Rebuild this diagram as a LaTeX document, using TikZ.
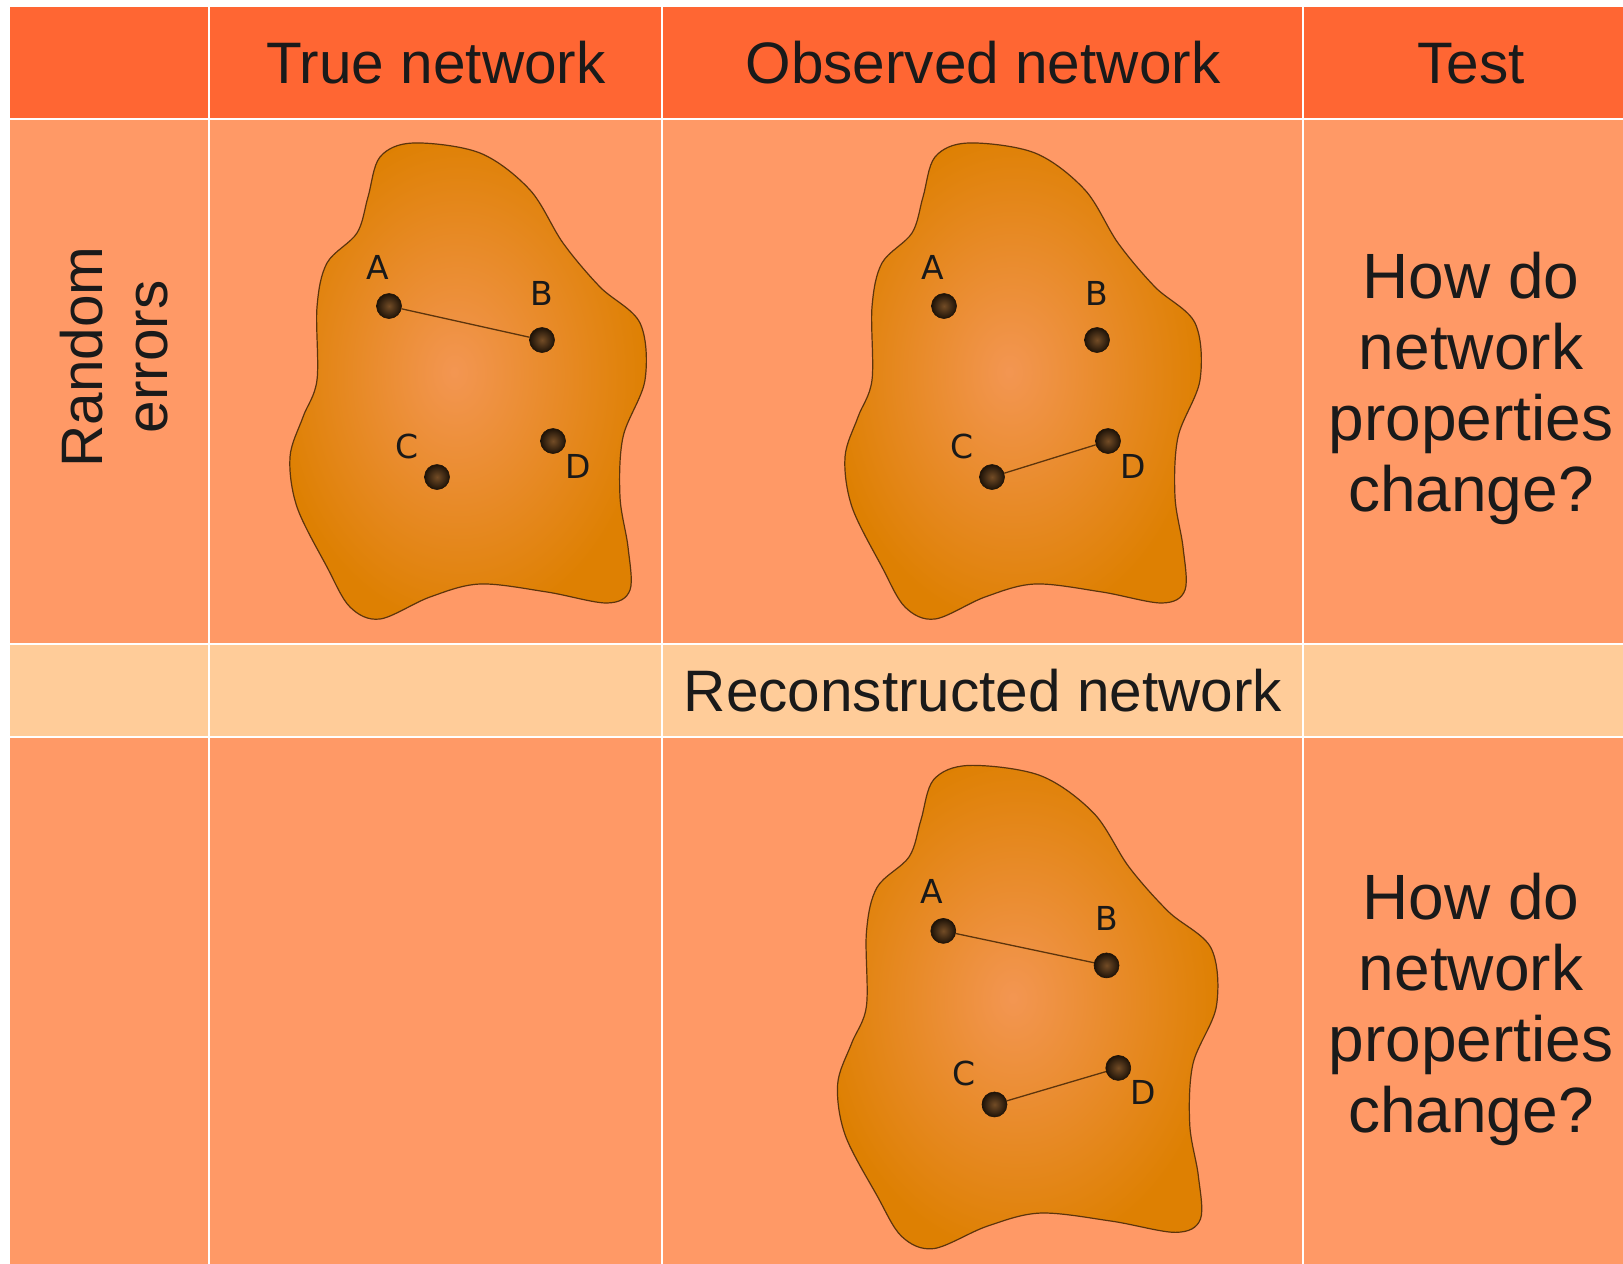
\documentclass[tikz,border=0pt]{standalone}
\usepackage{fontspec}
\setmainfont{Liberation Sans}
\newfontfamily\dotfont{DejaVu Sans}
\usepackage{xcolor}
\usetikzlibrary{positioning,calc}

\definecolor{headorange}{RGB}{255,102,51}
\definecolor{cellorange}{RGB}{255,153,102}
\definecolor{recpeach}{RGB}{255,204,153}
\definecolor{blobfill}{RGB}{222,128,2}
\definecolor{blobglow}{RGB}{243,150,82}
\definecolor{blobline}{RGB}{92,52,12}
\definecolor{dotdark}{RGB}{30,19,8}
\definecolor{dotlight}{RGB}{115,76,38}
\definecolor{inktext}{RGB}{26,26,26}

\pgfdeclareradialshading{blobshade}{\pgfpoint{-2bp}{1bp}}{color(0bp)=(blobglow); color(26bp)=(blobfill); color(50bp)=(blobfill)}
\pgfdeclareradialshading{dotshade}{\pgfpoint{0bp}{0bp}}{color(0bp)=(dotlight); color(25bp)=(dotdark); color(50bp)=(dotdark)}

% outline of one network cloud, centred on its own origin
\newcommand{\blobpath}{plot[smooth cycle, tension=0.55] coordinates {
    (-54,-237) (13,-227) (63,-190) (96,-137) (133,-93) (173,-57) (178,0)
    (156,57) (153,117) (161,167) (163,210) (140,223) (80,212) (13,204)
    (-37,217) (-87,239) (-117,227) (-140,187) (-170,127) (-177,77)
    (-164,37) (-150,0) (-150,-73) (-140,-117) (-110,-147) (-99,-183) (-87,-223)}}

% the four vertices A-D of one network
\newcommand{\netdots}[1]{%
    \node[dot] (#1-a) at (-78,-74) {};
    \node[dot] (#1-b) at (75,-40) {};
    \node[dot] (#1-c) at (-30,97) {};
    \node[dot] (#1-d) at (86,61) {};
    \node[dotlabel, xshift=-11pt, yshift=39pt] (#1-la) at (#1-a) {A};
    \node[dotlabel, yshift=47pt] (#1-lb) at (#1-b) {B};
    \node[dotlabel, xshift=-30pt, yshift=31pt] (#1-lc) at (#1-c) {C};
    \node[dotlabel, xshift=25pt, yshift=-25pt] (#1-ld) at (#1-d) {D};
}

\begin{document}
\begin{tikzpicture}[
        x=1pt, y=-1pt,
        grid/.style={draw=white, line width=1.3pt},
        headtext/.style={anchor=base, inner sep=0pt, text=inktext, font=\fontsize{58.5}{70}\selectfont},
        qtext/.style={align=center, inner sep=0pt, text=inktext, font=\fontsize{64}{71}\selectfont},
        blob/.style={draw=blobline, line width=1.2pt, shading=blobshade},
        dot/.style={circle, minimum size=25pt, inner sep=0pt, shading=dotshade, draw=dotdark, line width=0.6pt},
        dotlabel/.style={inner sep=0pt, text=black!90, font=\dotfont\fontsize{33}{33}\selectfont},
        link/.style={draw=blobline, line width=1.3pt}
    ]
    \useasboundingbox (0,0) rectangle (1623,1264);
    \fill[white] (0,0) rectangle (1623,1264);

    % Table rows
    \fill[headorange] (10,7) rectangle (1623,119);
    \fill[cellorange] (10,119) rectangle (1623,644);
    \fill[recpeach] (10,644) rectangle (1623,737);
    \fill[cellorange] (10,737) rectangle (1623,1264);

    % Grid
    \foreach \gx in {209,662,1303} \draw[grid] (\gx,7) -- (\gx,1264);
    \foreach \gy in {119,644,737} \draw[grid] (10,\gy) -- (1623,\gy);

    % Header
    \node[headtext] (hTrue) at (436,83) {True network};
    \node[headtext] (hObs) at (983,83) {Observed network};
    \node[headtext] (hTest) at (1471,83) {Test};
    \node[headtext] (hRec) at (983,711) {Reconstructed network};

    % Row label
    \node[align=center, inner sep=0pt, text=inktext, rotate=90,
        font=\fontsize{58.5}{65}\selectfont] (rowErr) at (114,357) {Random\\errors};

    % Questions
    \node[qtext] (qTop) at (1471,388) {How do\\network\\properties\\change?};
    \node[qtext] (qBot) at (1471,1009) {How do\\network\\properties\\change?};

    % True network
    \begin{scope}[shift={(467,380)}]
        \path[blob] \blobpath;
        \netdots{t}
        \draw[link] (t-a) -- (t-b);
    \end{scope}

    % Observed network
    \begin{scope}[shift={(1022,380)}]
        \path[blob] \blobpath;
        \netdots{o}
        \draw[link] (o-c) -- (o-d);
    \end{scope}

    % Reconstructed network
    \begin{scope}[shift={(1026.5,1006)}, xscale=1.067, yscale=1.015]
        \path[blob] \blobpath;
        \netdots{r}
        \draw[link] (r-a) -- (r-b);
        \draw[link] (r-c) -- (r-d);
    \end{scope}
\end{tikzpicture}
\end{document}
